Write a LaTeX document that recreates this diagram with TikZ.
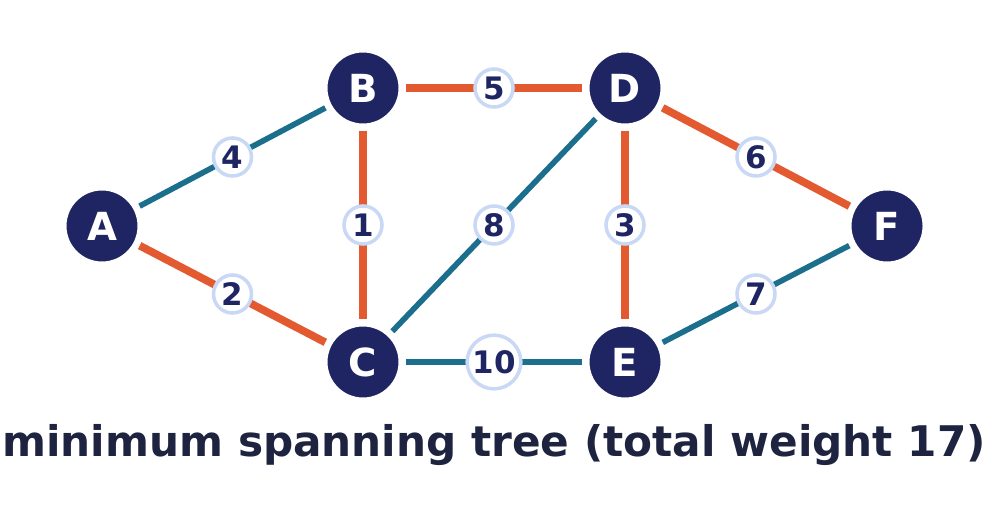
\documentclass[tikz,border=0pt]{standalone}
\usepackage{fontspec}
\setmainfont{DejaVu Sans}
\usetikzlibrary{positioning}
\definecolor{navy}{HTML}{1F2562}
\definecolor{tree}{HTML}{E35A30}
\definecolor{other}{HTML}{1B6F8C}
\definecolor{ring}{HTML}{C8D8F5}
\definecolor{titlec}{HTML}{1E2340}
\begin{document}
\begin{tikzpicture}[x=0.01cm,y=-0.01cm,
  vertex/.style={circle, fill=navy, draw=white, line width=2pt, minimum size=0.78cm,
    inner sep=0pt, text=white, font=\fontsize{11}{11}\selectfont\bfseries},
  weight/.style={circle, fill=white, draw=ring, line width=1pt, minimum size=0.38cm,
    inner sep=0.5pt, text=navy, font=\fontsize{8.8}{9}\selectfont\bfseries},
  mst/.style={tree, line width=2.2pt},
  rest/.style={other, line width=1.6pt}]
\useasboundingbox (0,0) rectangle (989,519);
% ===== vertices =====
\node[vertex] (A) at (102,226) {A};
\node[vertex] (B) at (363,88) {B};
\node[vertex] (C) at (363,362) {C};
\node[vertex] (D) at (625,88) {D};
\node[vertex] (E) at (625,362) {E};
\node[vertex] (F) at (887,226) {F};
% ===== edges =====
\draw[rest] (A) -- node[weight] {4} (B);
\draw[mst] (A) -- node[weight] {2} (C);
\draw[mst] (B) -- node[weight] {1} (C);
\draw[mst] (B) -- node[weight] {5} (D);
\draw[rest] (C) -- node[weight] {8} (D);
\draw[mst] (D) -- node[weight] {3} (E);
\draw[mst] (D) -- node[weight] {6} (F);
\draw[rest] (C) -- node[weight] {10} (E);
\draw[rest] (E) -- node[weight] {7} (F);
% ===== title =====
\node[font=\fontsize{12}{12}\selectfont\bfseries, text=titlec] (title) at (494,445)
  {minimum spanning tree (total weight 17)};
\end{tikzpicture}
\end{document}
